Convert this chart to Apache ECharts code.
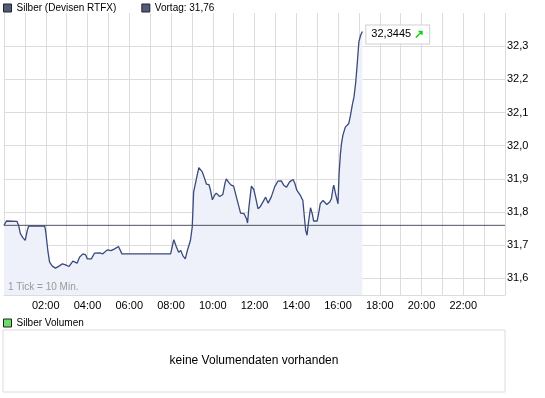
<!DOCTYPE html>
<html lang="de">
<head>
    <meta charset="UTF-8">
    <title>Silber</title>
    <script src="https://cdn.jsdelivr.net/npm/echarts@6/dist/echarts.min.js"></script>
    <style>
        body { margin: 0; background: #fff; }
        #chart { width: 545px; height: 398px; }
    </style>
</head>
<body>
<div id="chart"></div>
<script>
    // minutes since 00:00 and price
    var priceTimes = [0, 7, 37, 42, 47, 54, 61, 67, 71, 117, 120, 126, 131, 139, 148, 158, 168, 177, 187, 198,
        210, 217, 227, 235, 239, 251, 260, 275, 284, 297, 308, 318, 329, 339, 479, 488, 495, 502, 508, 514,
        521, 527, 536, 541, 543, 545, 548, 553, 560, 570, 577, 582, 589, 593, 599, 605, 610, 620, 629, 635,
        639, 647, 653, 660, 668, 675, 680, 690, 697, 700, 704, 711, 718, 723, 730, 737, 744, 752, 759, 768,
        778, 787, 797, 804, 812, 821, 831, 836, 842, 852, 859, 862, 867, 871, 874, 881, 886, 890, 900, 905,
        909, 917, 922, 928, 936, 941, 946, 948, 953, 957, 960, 963, 967, 970, 974, 981, 991, 996, 1001, 1006,
        1011, 1015, 1020, 1025, 1030];
    var priceValues = [31.760, 31.773, 31.772, 31.760, 31.735, 31.723, 31.715, 31.745, 31.758, 31.758, 31.740, 31.684, 31.649, 31.637, 31.631, 31.637, 31.644, 31.641, 31.636, 31.652,
        31.646, 31.664, 31.674, 31.671, 31.659, 31.659, 31.676, 31.677, 31.674, 31.686, 31.684, 31.689, 31.696, 31.674, 31.674, 31.717, 31.696, 31.679, 31.684, 31.669,
        31.659, 31.684, 31.715, 31.755, 31.805, 31.860, 31.865, 31.900, 31.934, 31.921, 31.900, 31.884, 31.883, 31.868, 31.837, 31.850, 31.857, 31.847, 31.853, 31.886,
        31.900, 31.888, 31.881, 31.878, 31.845, 31.817, 31.797, 31.795, 31.780, 31.767, 31.815, 31.878, 31.868, 31.845, 31.810, 31.817, 31.830, 31.845, 31.827, 31.845,
        31.876, 31.893, 31.894, 31.881, 31.875, 31.891, 31.898, 31.886, 31.865, 31.850, 31.835, 31.800, 31.745, 31.730, 31.760, 31.813, 31.795, 31.773, 31.773, 31.800,
        31.825, 31.835, 31.837, 31.823, 31.830, 31.840, 31.874, 31.881, 31.855, 31.857, 31.825, 31.914, 31.976, 32.006, 32.031, 32.056, 32.067, 32.092, 32.122, 32.147,
        32.192, 32.243, 32.313, 32.333, 32.3445];
    var vortag = 31.76;
    var yTicks = [31.6, 31.7, 31.8, 31.9, 32.0, 32.1, 32.2, 32.3];
    var volumeValues = [];

    var priceData = [];
    for (var i = 0; i < priceTimes.length; i++) {
        priceData.push([priceTimes[i], priceValues[i]]);
    }

    function komma(v, d) {
        return v.toFixed(d).replace('.', ',');
    }
    function pad(n) {
        return (n < 10 ? '0' : '') + n;
    }

    var font = '"Liberation Sans", Arial, sans-serif';
    var gridColor = '#dcdcdc';

    var myChart = echarts.init(document.getElementById('chart'));
    myChart.setOption({
        animation: false,
        textStyle: { fontFamily: font },
        legend: [{
            left: 3, top: 3, padding: 0,
            icon: 'rect', itemWidth: 8, itemHeight: 8, itemGap: 25,
            selectedMode: false,
            textStyle: { fontSize: 10, color: '#000', fontFamily: font },
            itemStyle: { borderColor: '#222', borderWidth: 1 },
            data: ['Silber (Devisen RTFX)', 'Vortag: ' + komma(vortag, 2)]
        }, {
            left: 3, top: 318, padding: 0,
            icon: 'rect', itemWidth: 8, itemHeight: 8,
            selectedMode: false,
            textStyle: { fontSize: 10, color: '#000', fontFamily: font },
            itemStyle: { borderColor: '#222', borderWidth: 1 },
            data: ['Silber Volumen']
        }],
        grid: [
            { left: 4, top: 13, width: 501, height: 282 },
            { left: 3, top: 330, width: 502, height: 62, show: true, borderColor: gridColor, borderWidth: 1 }
        ],
        xAxis: [{
            type: 'value', gridIndex: 0,
            min: 0, max: 1440, interval: 60,
            axisLine: { show: true, lineStyle: { color: gridColor } },
            axisTick: { show: false },
            splitLine: { show: true, lineStyle: { color: gridColor } },
            axisLabel: {
                margin: 5, fontSize: 11, color: '#000', fontFamily: font,
                formatter: function (v) {
                    if (v > 0 && v < 1440 && v % 120 === 0) return pad(v / 60) + ':00';
                    return '';
                }
            }
        }, {
            type: 'value', gridIndex: 1, min: 0, max: 1440, show: false
        }],
        yAxis: [{
            type: 'value', gridIndex: 0, position: 'right',
            min: 31.55, max: 32.4,
            axisLine: { show: false },
            axisTick: { show: false, customValues: yTicks },
            splitLine: { show: true, lineStyle: { color: gridColor } },
            axisLabel: {
                customValues: yTicks, margin: 2, fontSize: 11, color: '#000', fontFamily: font,
                formatter: function (v) { return komma(v, 1); }
            }
        }, {
            type: 'value', gridIndex: 1, show: false
        }],
        graphic: [{
            type: 'text', left: 8, top: 282, z: 100,
            style: { text: '1 Tick = 10 Min.', fill: '#999', font: '10px ' + font }
        }, {
            type: 'text', x: 254, y: 361, z: 100,
            style: { text: 'keine Volumendaten vorhanden', fill: '#000', font: '12px ' + font, align: 'center', verticalAlign: 'middle' }
        }],
        series: [{
            name: 'Silber (Devisen RTFX)',
            type: 'line',
            data: priceData,
            symbol: 'none',
            z: 3,
            itemStyle: { color: '#515c7c' },
            lineStyle: { color: '#3a4a7c', width: 1.3 },
            areaStyle: { color: '#eef1fa', origin: 'start', opacity: 1 },
            endLabel: {
                show: true,
                distance: 4,
                offset: [0, 3],
                backgroundColor: '#fff',
                borderColor: '#d0d0d0',
                borderWidth: 1,
                padding: [3, 5, 3, 5],
                fontSize: 11,
                color: '#000',
                fontFamily: font,
                formatter: function (p) {
                    return komma(p.value[1], 4) + ' {a|\u2197}';
                },
                rich: { a: { color: '#10d010', fontSize: 12, fontWeight: 'bold' } }
            }
        }, {
            name: 'Vortag: ' + komma(vortag, 2),
            type: 'line',
            data: [[0, vortag], [1440, vortag]],
            symbol: 'none',
            silent: true,
            z: 4,
            itemStyle: { color: '#515c7c' },
            lineStyle: { color: '#4d5266', width: 1 }
        }, {
            name: 'Silber Volumen',
            type: 'bar',
            xAxisIndex: 1, yAxisIndex: 1,
            data: volumeValues,
            itemStyle: { color: '#6ddc6d' }
        }]
    });
</script>
</body>
</html>
